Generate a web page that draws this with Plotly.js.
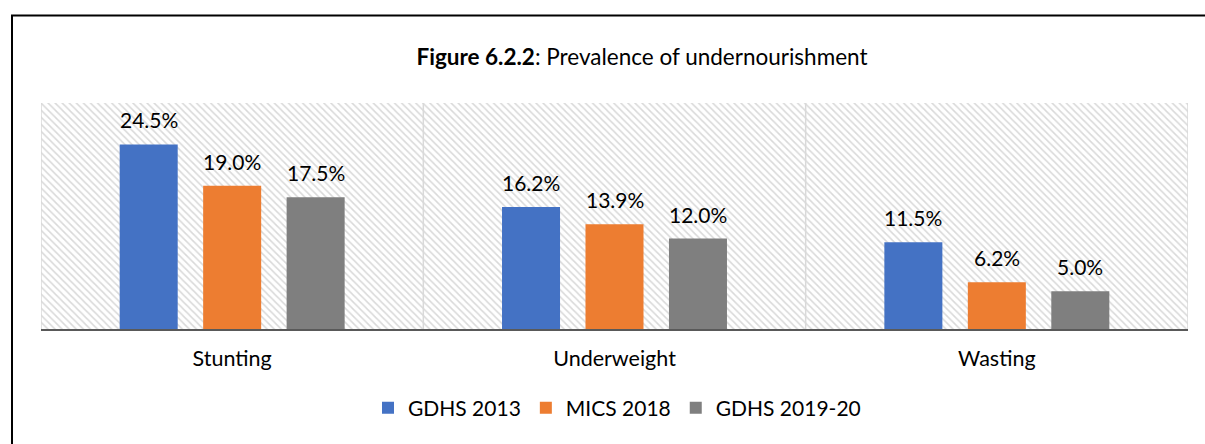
<!DOCTYPE html>
<html>
<head>
<meta charset="utf-8">
<script src="https://cdn.plot.ly/plotly-3.0.1.min.js"></script>
<style>
html,body{margin:0;padding:0;background:#fff;overflow:hidden;}
#chart{width:1205px;height:444px;}
</style>
</head>
<body>
<div id="chart"></div>
<script>
const categories = ["Stunting", "Underweight", "Wasting"];
const seriesNames = ["GDHS 2013", "MICS 2018", "GDHS 2019-20"];
const gdhs2013 = [24.5, 16.2, 11.5];
const mics2018 = [19.0, 13.9, 6.2];
const gdhs2019 = [17.5, 12.0, 5.0];
const seriesColors = ["#4472C4", "#ED7D31", "#7F7F7F"];
const yMax = 30;

const FONT = "Lato, 'Open Sans', sans-serif";
const W = 1205, H = 444;
const L = 41, R = 17, T = 103, B = 115;
const pw = W - L - R, ph = H - T - B;
const px2x = p => (p - L) / pw;
const py2y = p => (H - B - p) / ph;
const BARGAP = 0.345, GROUPGAP = 0.305;

const n = categories.length;
const bg = {
  type: "bar", x: [n / 2], y: [yMax], width: [n],
  xaxis: "x", yaxis: "y", showlegend: false, hoverinfo: "skip",
  marker: {color: "#ffffff", line: {width: 0},
    pattern: {shape: "\\", fgcolor: "#d9d9d9", bgcolor: "#ffffff", size: 5, solidity: 0.3}}
};

const seriesValues = [gdhs2013, mics2018, gdhs2019];
const dataTraces = seriesValues.map((vals, i) => ({
  type: "bar", name: seriesNames[i], x: categories, y: vals,
  xaxis: "x2", yaxis: "y",
  marker: {color: seriesColors[i], line: {width: 0}},
  hoverinfo: "skip"
}));

const slotPx = pw / n * (1 - BARGAP) / seriesValues.length;
const annotations = [];
seriesValues.forEach((vals, i) => {
  vals.forEach((v, j) => {
    annotations.push({
      xref: "x2", yref: "y", x: categories[j], y: v,
      text: v.toFixed(1) + "%", showarrow: false,
      xanchor: "center", yanchor: "bottom",
      xshift: (i - (seriesValues.length - 1) / 2) * slotPx, yshift: 10,
      font: {family: FONT, size: 21, color: "#000000"}
    });
  });
});

const shapes = [];
for (let k = 0; k <= n; k++) {
  shapes.push({type: "line", xref: "x", yref: "y", x0: k, x1: k, y0: 0, y1: yMax,
    line: {color: "#d9d9d9", width: 1.5}, layer: "above"});
}
// outer chart frame: only its top and left edges fall inside the picture
const fx0 = px2x(12), fx1 = px2x(1210), fy0 = py2y(15.5), fy1 = py2y(450);
shapes.push({type: "path", xref: "paper", yref: "paper",
  path: `M ${fx0} ${fy1} L ${fx0} ${fy0} L ${fx1} ${fy0}`,
  line: {color: "#000000", width: 2}, fillcolor: "rgba(0,0,0,0)", layer: "above"});

const layout = {
  width: W, height: H,
  margin: {l: L, r: R, t: T, b: B, pad: 0},
  paper_bgcolor: "#ffffff", plot_bgcolor: "#ffffff",
  font: {family: FONT, size: 20, color: "#000000"},
  title: {text: "<b>Figure 6.2.2</b>: Prevalence of undernourishment",
    font: {family: FONT, size: 22.5, color: "#000000"},
    x: 642 / W, xref: "container", xanchor: "center",
    y: 1 - 57 / H, yref: "container", yanchor: "middle"},
  barmode: "group", bargap: BARGAP, bargroupgap: GROUPGAP,
  xaxis: {range: [0, n], showgrid: false, zeroline: false, showticklabels: false,
    ticks: "", showline: false, fixedrange: true},
  xaxis2: {overlaying: "x", type: "category", side: "bottom", range: [-0.5, n - 0.5],
    showgrid: false, zeroline: false, ticks: "", showline: true,
    linecolor: "#595959", linewidth: 1.5,
    tickfont: {family: FONT, size: 21.5, color: "#000000"},
    ticklabelstandoff: 10},
  yaxis: {range: [0, yMax], showgrid: false, zeroline: false, showticklabels: false,
    ticks: "", showline: false, fixedrange: true},
  showlegend: true,
  legend: {orientation: "h", x: px2x(617), xanchor: "center", y: py2y(408), yanchor: "middle",
    font: {family: FONT, size: 21, color: "#000000"}, itemwidth: 30, tracegroupgap: 0,
    bgcolor: "rgba(0,0,0,0)"},
  annotations: annotations,
  shapes: shapes
};

Plotly.newPlot("chart", [bg].concat(dataTraces), layout, {staticPlot: true, displayModeBar: false});
</script>
</body>
</html>
